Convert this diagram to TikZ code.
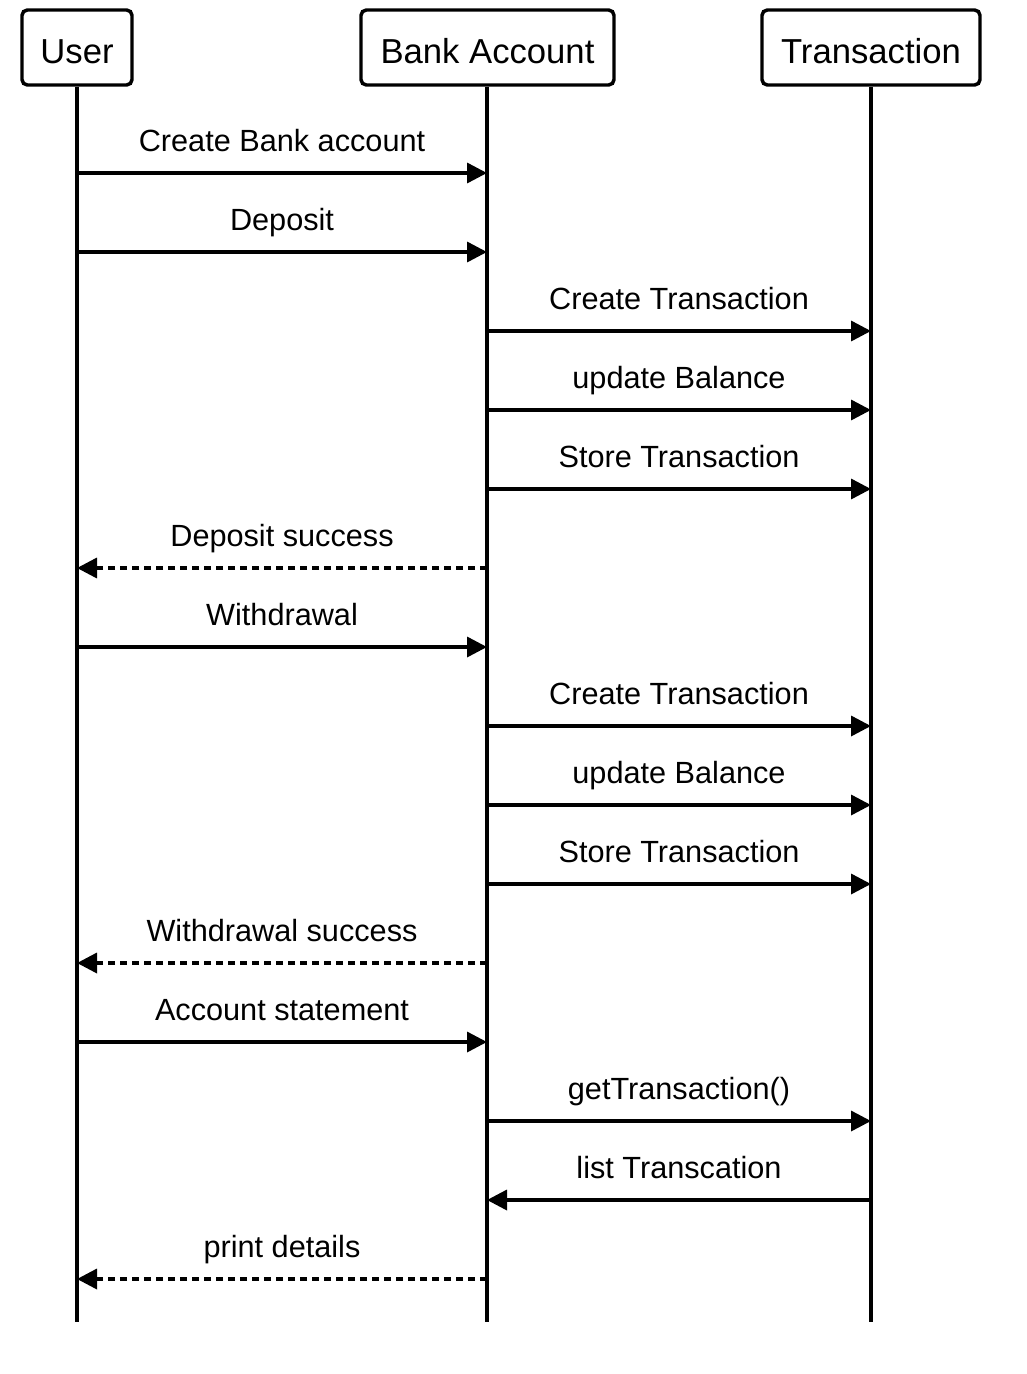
\documentclass[tikz,border=0pt]{standalone}
\usepackage{fontspec}
\setmainfont{Liberation Sans}
\usetikzlibrary{arrows.meta,positioning,calc}

\begin{document}
\begin{tikzpicture}[
    x=0.75pt, y=-0.75pt,
    actor/.style={rectangle,rounded corners=4pt,draw=black,line width=2.6pt,fill=white,minimum height=56.25pt,text height=23.8pt,text depth=0pt,font=\fontsize{26}{30}\selectfont},
    life/.style={line width=2.6pt},
    msg/.style={line width=2.6pt,-{Triangle[length=15pt,width=15pt]}},
    reply/.style={msg,dash pattern=on 5pt off 4pt},
    lbl/.style={anchor=base,yshift=16.5pt,font=\fontsize{23}{27}\selectfont}
]
\useasboundingbox (0,0) rectangle (1026,1374);

% Actors
\node[actor,minimum width=82.5pt] (user) at (77,47.5) {User};
\node[actor,minimum width=189.75pt] (bank) at (487.5,47.5) {Bank Account};
\node[actor,minimum width=163.5pt] (trans) at (871,47.5) {Transaction};

% Lifelines
\coordinate (userend) at (77,1322);
\coordinate (bankend) at (487,1322);
\coordinate (transend) at (871,1322);
\draw[life] (user) -- (userend);
\draw[life] (bank.south -| bankend) -- (bankend);
\draw[life] (trans) -- (transend);

% Message points
\foreach \i in {1,...,15} {
  \coordinate (u\i) at (77,94+79*\i);
  \coordinate (b\i) at (487,94+79*\i);
  \coordinate (t\i) at (871,94+79*\i);
}

% Deposit
\draw[msg] (u1) -- node[lbl] {Create Bank account} (b1);
\draw[msg] (u2) -- node[lbl] {Deposit} (b2);
\draw[msg] (b3) -- node[lbl] {Create Transaction} (t3);
\draw[msg] (b4) -- node[lbl] {update Balance} (t4);
\draw[msg] (b5) -- node[lbl] {Store Transaction} (t5);
\draw[reply] (b6) -- node[lbl] {Deposit success} (u6);

% Withdrawal
\draw[msg] (u7) -- node[lbl] {Withdrawal} (b7);
\draw[msg] (b8) -- node[lbl] {Create Transaction} (t8);
\draw[msg] (b9) -- node[lbl] {update Balance} (t9);
\draw[msg] (b10) -- node[lbl] {Store Transaction} (t10);
\draw[reply] (b11) -- node[lbl] {Withdrawal success} (u11);

% Statement
\draw[msg] (u12) -- node[lbl] {Account statement} (b12);
\draw[msg] (b13) -- node[lbl] {getTransaction()} (t13);
\draw[msg] (t14) -- node[lbl] {list Transcation} (b14);
\draw[reply] (b15) -- node[lbl] {print details} (u15);
\end{tikzpicture}
\end{document}
